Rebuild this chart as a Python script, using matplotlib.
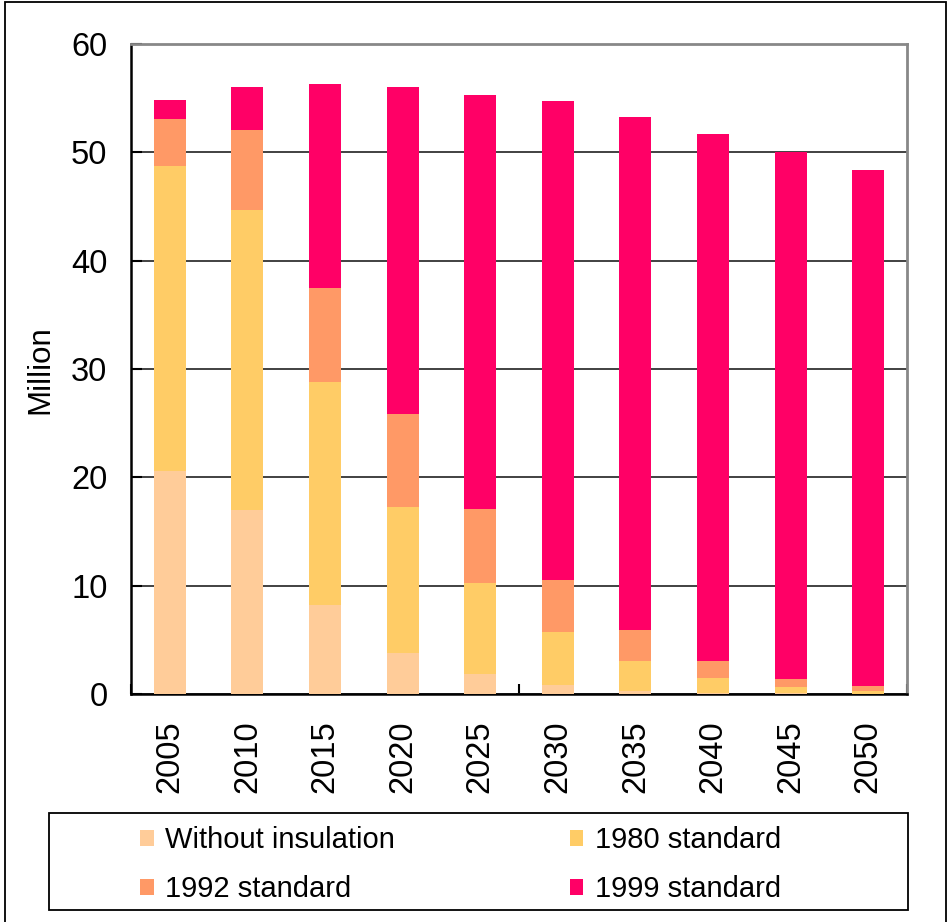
import matplotlib
matplotlib.use("Agg")
import matplotlib.pyplot as plt
from matplotlib.patches import Rectangle, Patch
import numpy as np

years = ["2005", "2010", "2015", "2020", "2025", "2030", "2035", "2040", "2045", "2050"]
without_insulation = [20.6, 17.0, 8.2, 3.8, 1.8, 0.8, 0.3, 0.1, 0.05, 0.03]
std_1980 = [28.1, 27.7, 20.6, 13.5, 8.4, 4.9, 2.7, 1.4, 0.6, 0.27]
std_1992 = [4.4, 7.4, 8.7, 8.5, 6.9, 4.8, 2.9, 1.55, 0.75, 0.45]
std_1999 = [1.7, 3.9, 18.8, 30.2, 38.2, 44.2, 47.4, 48.6, 48.6, 47.6]
series_names = ["Without insulation", "1980 standard", "1992 standard", "1999 standard"]
colors = ["#FFCC99", "#FFCC66", "#FF9966", "#FF0066"]
yticks = [0, 10, 20, 30, 40, 50, 60]

plt.rcParams['font.family'] = ['Liberation Sans', 'DejaVu Sans']

W, H = 948, 922
fig = plt.figure(figsize=(W / 100, H / 100), dpi=100)
ax = fig.add_axes([131 / W, 1 - 694 / H, 776 / W, 650 / H])

x = np.arange(len(years))
bottom = np.zeros(len(years))
series = [without_insulation, std_1980, std_1992, std_1999]
for vals, c, name in zip(series, colors, series_names):
    ax.bar(x, vals, width=0.41, bottom=bottom, color=c, label=name, zorder=3)
    bottom += np.array(vals)

ax.set_xlim(-0.5, len(years) - 0.5)
ax.set_ylim(0, 60)
ax.set_yticks(yticks)
ax.set_yticklabels([str(t) for t in yticks], fontsize=23.5)
ax.yaxis.grid(True, color="#333333", linewidth=1.3, zorder=1)
ax.tick_params(axis='y', direction='in', length=8, width=1.5, pad=17, colors='black')

ax.set_xticks(x)
ax.set_xticklabels(years, rotation=90, fontsize=23.5, va='top', ha='center')
ax.tick_params(axis='x', which='major', length=0, pad=19)
ax.set_xticks([-0.5, 4.5, 9.5], minor=True)
ax.tick_params(axis='x', which='minor', direction='in', length=7, width=1.5, color='black')

for s in ['left', 'bottom']:
    ax.spines[s].set_color('black')
    ax.spines[s].set_linewidth(1.8)
for s in ['top', 'right']:
    ax.spines[s].set_color('#888888')
    ax.spines[s].set_linewidth(2.0)

fig.text(40 / W, 1 - 370 / H, "Million", rotation=90, ha='center', va='center', fontsize=22.5)

# outer chart border
fig.patches.append(Rectangle((5 / W, -0.01), 941 / W, 1 - 2 / H + 0.01, transform=fig.transFigure,
                             fill=False, edgecolor='black', linewidth=1.3))
# legend frame
fig.patches.append(Rectangle((49 / W, 1 - 910 / H), 859 / W, 97 / H, transform=fig.transFigure,
                             fill=False, edgecolor='black', linewidth=1.3))

# legend fills columns first: order so rows read as in the reference
order = [0, 2, 1, 3]
handles = [Patch(facecolor=colors[i], edgecolor='none') for i in order]
labels = [series_names[i] for i in order]
leg = fig.legend(handles, labels, loc='upper left', bbox_to_anchor=(120 / W, 1 - 806 / H),
                 ncol=2, frameon=False, fontsize=21, handlelength=0.45, handleheight=0.45,
                 handletextpad=0.4, columnspacing=6.0, labelspacing=0.72, borderpad=0.2)

fig.savefig("out.png", dpi=100)
